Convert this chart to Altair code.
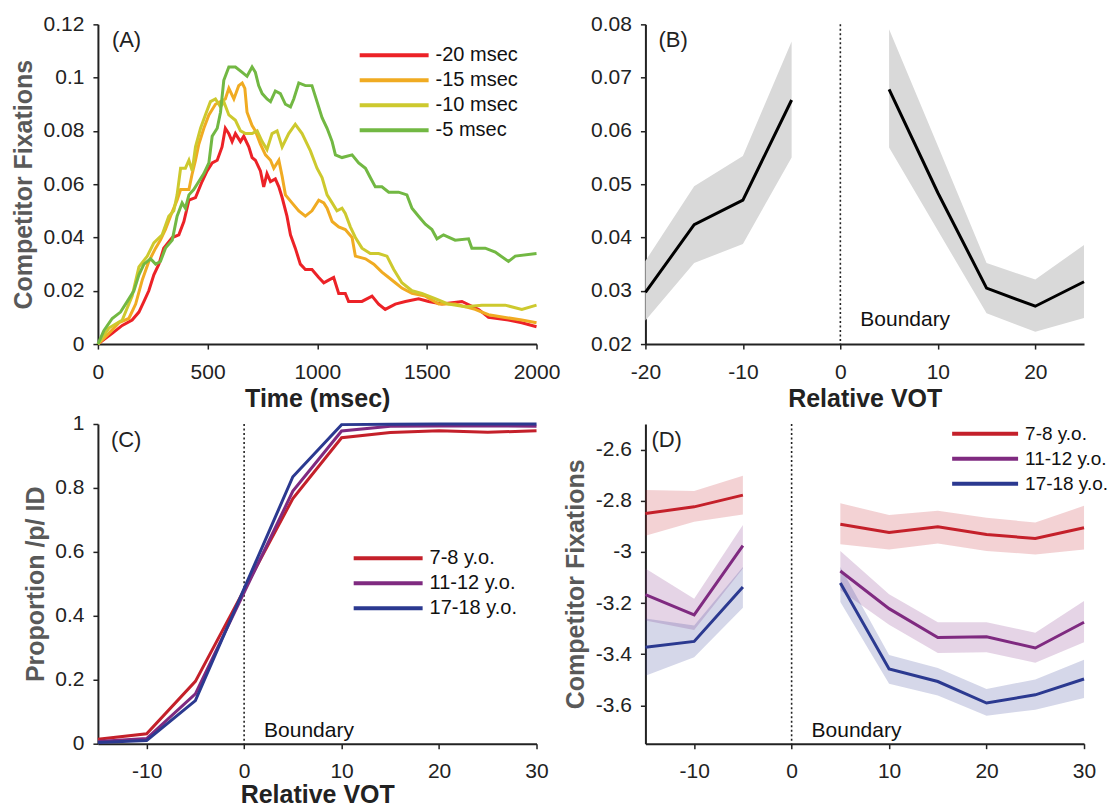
import altair as alt
import pandas as pd

FONT = "Liberation Sans"
LBL = "datum.value + ''"
W, H = 439, 320

# ---------------- Panel A : competitor fixations over time ----------------
cond_a = ["-20 msec", "-15 msec", "-10 msec", "-5 msec"]
col_a = ["#ec2227", "#f0ab22", "#cdc92e", "#72b843"]
a_m20 = [(0, 0), (65, .004), (111, .007), (156, .009), (187, .012), (210, .016), (232, .020), (255, .026),
         (278, .030), (300, .036), (339, .040), (369, .041), (392, .046), (415, .054), (445, .055), (475, .061),
         (498, .065), (521, .068), (544, .069), (566, .074), (581, .081), (597, .079), (612, .076), (627, .079),
         (650, .076), (665, .078), (688, .074), (703, .070), (718, .069), (741, .065), (756, .059), (771, .064),
         (787, .061), (809, .062), (825, .059), (840, .055), (862, .048), (878, .041), (900, .036), (923, .030),
         (946, .028), (976, .028), (1007, .025), (1030, .023), (1052, .024), (1075, .025), (1098, .019),
         (1128, .019), (1143, .016), (1204, .016), (1250, .018), (1280, .015), (1310, .013), (1356, .015),
         (1402, .016), (1462, .017), (1508, .016), (1569, .015), (1660, .016), (1736, .013), (1781, .010),
         (1872, .009), (1933, .008), (2000, .0065)]
a_m15 = [(0, 0), (50, .004), (96, .008), (141, .0096), (172, .015), (202, .024), (232, .031), (263, .036),
         (285, .039), (308, .043), (331, .048), (361, .054), (377, .058), (415, .058), (430, .064), (445, .069),
         (460, .075), (483, .081), (506, .086), (536, .090), (559, .091), (581, .092), (597, .096), (620, .092),
         (642, .097), (658, .098), (670, .096), (680, .087), (703, .082), (718, .080), (741, .075), (764, .071),
         (787, .069), (802, .066), (825, .069), (840, .063), (855, .056), (885, .053), (916, .050), (946, .048),
         (976, .050), (1007, .054), (1030, .053), (1045, .051), (1068, .046), (1098, .044), (1128, .043),
         (1159, .040), (1174, .033), (1220, .032), (1258, .030), (1295, .027), (1326, .025), (1356, .023),
         (1386, .021), (1432, .019), (1493, .018), (1554, .015), (1629, .015), (1720, .013), (1781, .011),
         (1857, .010), (1933, .009), (2000, .008)]
a_m10 = [(0, 0), (50, .006), (111, .009), (156, .018), (187, .029), (225, .033), (255, .038), (293, .041),
         (323, .048), (346, .050), (361, .056), (377, .066), (399, .066), (415, .069), (430, .065), (445, .074),
         (468, .081), (490, .086), (513, .091), (536, .092), (559, .089), (574, .091), (597, .086), (627, .084),
         (650, .080), (673, .079), (703, .079), (726, .080), (749, .076), (771, .073), (794, .079), (817, .080),
         (840, .074), (870, .079), (900, .0825), (931, .079), (969, .0725), (999, .066), (1022, .0625),
         (1045, .056), (1068, .053), (1090, .050), (1113, .051), (1128, .049), (1151, .044), (1174, .040),
         (1204, .036), (1242, .034), (1280, .034), (1318, .033), (1349, .028), (1386, .023), (1432, .020),
         (1477, .019), (1538, .017), (1599, .015), (1675, .014), (1751, .0146), (1857, .0146), (1933, .013),
         (2000, .0146)]
a_m5 = [(0, 0), (27, .005), (65, .0096), (103, .012), (134, .016), (164, .020), (187, .026), (210, .030),
        (240, .032), (263, .030), (285, .031), (308, .036), (339, .039), (361, .048), (384, .053), (399, .051),
        (415, .056), (437, .058), (460, .061), (483, .064), (506, .068), (521, .078), (544, .081), (559, .087),
        (574, .099), (597, .104), (627, .104), (658, .102), (680, .1005), (703, .104), (718, .102), (733, .097),
        (749, .094), (771, .092), (787, .091), (809, .095), (832, .094), (855, .090), (878, .089), (893, .092),
        (916, .098), (946, .097), (976, .097), (999, .091), (1022, .085), (1045, .081), (1068, .076),
        (1083, .071), (1113, .070), (1159, .071), (1189, .068), (1220, .066), (1242, .0625), (1265, .059),
        (1295, .059), (1326, .057), (1371, .057), (1409, .056), (1432, .051), (1462, .048), (1493, .045),
        (1523, .043), (1546, .0395), (1576, .041), (1629, .039), (1690, .0395), (1705, .036), (1766, .036),
        (1812, .0345), (1872, .031), (1903, .033), (2000, .034)]
ticks_ax = [0, 500, 1000, 1500, 2000]
ticks_ay = [0, 0.02, 0.04, 0.06, 0.08, 0.1, 0.12]

# ---------------- Panel B : fixations by relative VOT ----------------
vot_b = [-20, -15, -10, -5, 5, 10, 15, 20, 25]
fix_b = [0.0297, 0.0424, 0.0470, 0.0658, 0.0678, 0.0484, 0.0305, 0.0271, 0.0317]
lo_b = [0.0244, 0.0352, 0.0388, 0.0550, 0.0569, 0.0413, 0.0258, 0.0223, 0.0249]
hi_b = [0.0356, 0.0496, 0.0553, 0.0768, 0.0791, 0.0572, 0.0352, 0.0321, 0.0386]
ticks_bx = [-20, -10, 0, 10, 20]
ticks_by = [0.02, 0.03, 0.04, 0.05, 0.06, 0.07, 0.08]

# ---------------- Panel C : identification ----------------
ages = ["7-8 y.o.", "11-12 y.o.", "17-18 y.o."]
col_age = ["#c4202a", "#7f2a80", "#2b3990"]
vot_c = [-15, -10, -5, 5, 10, 15, 20, 25, 30]
c_78 = [0.014, 0.031, 0.195, 0.767, 0.957, 0.973, 0.979, 0.974, 0.979]
c_1112 = [0.007, 0.016, 0.156, 0.790, 0.978, 0.993, 0.994, 0.994, 0.993]
c_1718 = [0.004, 0.010, 0.135, 0.835, 0.998, 0.999, 1.0, 1.0, 1.0]
ticks_cx = [-10, 0, 10, 20, 30]
ticks_cy = [0, 0.2, 0.4, 0.6, 0.8, 1]

# ---------------- Panel D : competitor fixations by age ----------------
vot_d = [-15, -10, -5, 5, 10, 15, 20, 25, 30]
d_78 = [-2.850, -2.824, -2.778, -2.892, -2.924, -2.902, -2.932, -2.948, -2.906]
d_78_hi = [-2.758, -2.762, -2.702, -2.810, -2.856, -2.839, -2.867, -2.885, -2.820]
d_78_lo = [-2.937, -2.882, -2.854, -2.970, -2.991, -2.967, -2.997, -3.010, -2.991]
d_1112 = [-3.167, -3.246, -2.976, -3.075, -3.222, -3.335, -3.332, -3.376, -3.275]
d_1112_hi = [-3.065, -3.183, -2.895, -2.997, -3.166, -3.275, -3.275, -3.316, -3.192]
d_1112_lo = [-3.268, -3.305, -3.065, -3.150, -3.285, -3.395, -3.392, -3.434, -3.353]
d_1718 = [-3.373, -3.350, -3.137, -3.122, -3.458, -3.507, -3.591, -3.559, -3.497]
d_1718_hi = [-3.261, -3.288, -3.059, -3.059, -3.403, -3.454, -3.536, -3.499, -3.422]
d_1718_lo = [-3.484, -3.412, -3.218, -3.196, -3.516, -3.562, -3.641, -3.617, -3.571]
ticks_dx = [-10, 0, 10, 20, 30]
ticks_dy = [-3.6, -3.4, -3.2, -3, -2.8, -2.6]

# ---------------- tables ----------------
dfA = pd.DataFrame([{"x": t, "y": v, "cond": c}
                    for c, pts in zip(cond_a, [a_m20, a_m15, a_m10, a_m5]) for t, v in pts])
side = lambda v: "pre" if v < 0 else "post"
dfB = pd.DataFrame({"x": vot_b, "y": fix_b, "lo": lo_b, "hi": hi_b, "seg": [side(v) for v in vot_b]})
dfC = pd.DataFrame([{"x": v, "y": p, "grp": g}
                    for g, vals in zip(ages, [c_78, c_1112, c_1718]) for v, p in zip(vot_c, vals)])
dfD = pd.DataFrame([{"x": v, "y": m, "lo": l, "hi": h, "grp": g, "band": "band " + g, "seg": side(v)}
                    for g, ms, ls, hs in zip(ages, [d_78, d_1112, d_1718], [d_78_lo, d_1112_lo, d_1718_lo],
                                             [d_78_hi, d_1112_hi, d_1718_hi])
                    for v, m, l, h in zip(vot_d, ms, ls, hs)])
zero = pd.DataFrame({"x": [0], "lab": ["Boundary"]})


def X(domain, ticks, title, ty=42):
    return alt.X("x:Q", scale=alt.Scale(domain=domain, nice=False, zero=False),
                 axis=alt.Axis(values=ticks, labelExpr=LBL, title=title, titleY=ty))


def Y(field, domain, ticks, title, tx=None):
    kw = dict(values=ticks, labelExpr=LBL, title=title)
    if tx is not None:
        kw["titleX"] = tx
    return alt.Y(f"{field}:Q", scale=alt.Scale(domain=domain, nice=False, zero=False), axis=alt.Axis(**kw))


def letter(lab, x):
    return alt.Chart(pd.DataFrame({"lab": [lab]})).mark_text(
        align="left", baseline="middle", fontSize=22, color="#222").encode(
        x=alt.value(x), y=alt.value(16), text="lab:N")


def boundary(xenc, ybase):
    rule = alt.Chart(zero).mark_rule(strokeDash=[2, 2.5], strokeWidth=1.6, color="#222").encode(x=xenc)
    txt = alt.Chart(zero).mark_text(align="left", baseline="alphabetic", dx=20, fontSize=21,
                                    color="#111").encode(x=xenc, y=alt.value(ybase), text="lab:N")
    return rule, txt


def legend(lx, ly, sym=69, fs=20):
    return alt.Legend(title=None, orient="none", legendX=lx, legendY=ly, symbolType="stroke",
                      symbolSize=sym * sym, symbolStrokeWidth=4, clipHeight=25, rowPadding=0, padding=0,
                      labelOffset=5, labelFontSize=fs, labelColor="#111", labelFont=FONT)


# Panel A
xA = X([0, 2000], ticks_ax, "Time (msec)")
pA = alt.layer(
    alt.Chart(dfA).mark_line(strokeWidth=3).encode(
        x=xA, y=Y("y", [0, 0.12], ticks_ay, "Competitor Fixations", -74),
        color=alt.Color("cond:N", scale=alt.Scale(domain=cond_a, range=col_a), sort=cond_a,
                        legend=legend(260, 18.5))),
    letter("(A)", 14),
).properties(width=W, height=H)

# Panel B
xB = X([-20, 25], ticks_bx, "Relative VOT")
ruleB, txtB = boundary(xB, 302)
pB = alt.layer(
    alt.Chart(dfB).mark_area(color="#d9d9d9").encode(
        x=xB, y=Y("lo", [0.02, 0.08], ticks_by, None), y2="hi:Q", detail="seg:N"),
    alt.Chart(dfB).mark_line(color="#000", strokeWidth=3).encode(
        x=xB, y=Y("y", [0.02, 0.08], ticks_by, None), detail="seg:N"),
    ruleB, txtB,
    letter("(B)", 13),
).properties(width=W, height=H)

# Panel C
xC = X([-15, 30], ticks_cx, "Relative VOT", ty=39)
ruleC, txtC = boundary(xC, 313)
pC = alt.layer(
    ruleC, txtC,
    alt.Chart(dfC).mark_line(strokeWidth=3).encode(
        x=xC, y=Y("y", [0, 1], ticks_cy, "Proportion /p/ ID", -62),
        color=alt.Color("grp:N", scale=alt.Scale(domain=ages, range=col_age), sort=ages,
                        legend=legend(254, 122))),
    letter("(C)", 13),
).properties(width=W, height=H)

# Panel D
xD = X([-15, 30], ticks_dx, None)
ruleD, txtD = boundary(xD, 313.5)
band_dom = ["band " + g for g in ages]
pD = alt.layer(
    ruleD, txtD,
    alt.Chart(dfD).mark_area(opacity=0.2).encode(
        x=xD, y=Y("lo", [-3.75, -2.5], ticks_dy, "Competitor Fixations", -69.5), y2="hi:Q",
        fill=alt.Fill("band:N", scale=alt.Scale(domain=band_dom, range=col_age), legend=None),
        detail="seg:N"),
    alt.Chart(dfD).mark_line(strokeWidth=3).encode(
        x=xD, y=Y("y", [-3.75, -2.5], ticks_dy, "Competitor Fixations", -69.5),
        color=alt.Color("grp:N", scale=alt.Scale(domain=ages, range=col_age), sort=ages,
                        legend=legend(305, -2.8, sym=66, fs=19)),
        detail="seg:N"),
    letter("(D)", 6),
).properties(width=W, height=H).resolve_scale(color="independent", fill="independent")

chart = alt.concat(
    pA, pB, pC, pD, columns=2, spacing={"row": 80, "column": 109}, bounds="flush"
).resolve_scale(color="independent", fill="independent").resolve_legend(
    color="independent", fill="independent"
).properties(
    padding={"left": 4, "top": 5, "right": 0, "bottom": 0}
).configure(font=FONT).configure_view(stroke=None).configure_axis(
    domainColor="#222", domainWidth=2, tickColor="#222", tickWidth=1.5, tickSize=5,
    labelFont=FONT, labelFontSize=21, labelColor="#222", labelFlush=False, labelOverlap=False,
    titleFont=FONT, titleFontSize=25, titleFontWeight="bold", grid=False
).configure_axisX(labelPadding=12, titleColor="#222").configure_axisY(
    labelPadding=9, titleColor="#595959", titleBaseline="middle")

chart.save("out.html", embed_options={"renderer": "svg", "actions": False})
